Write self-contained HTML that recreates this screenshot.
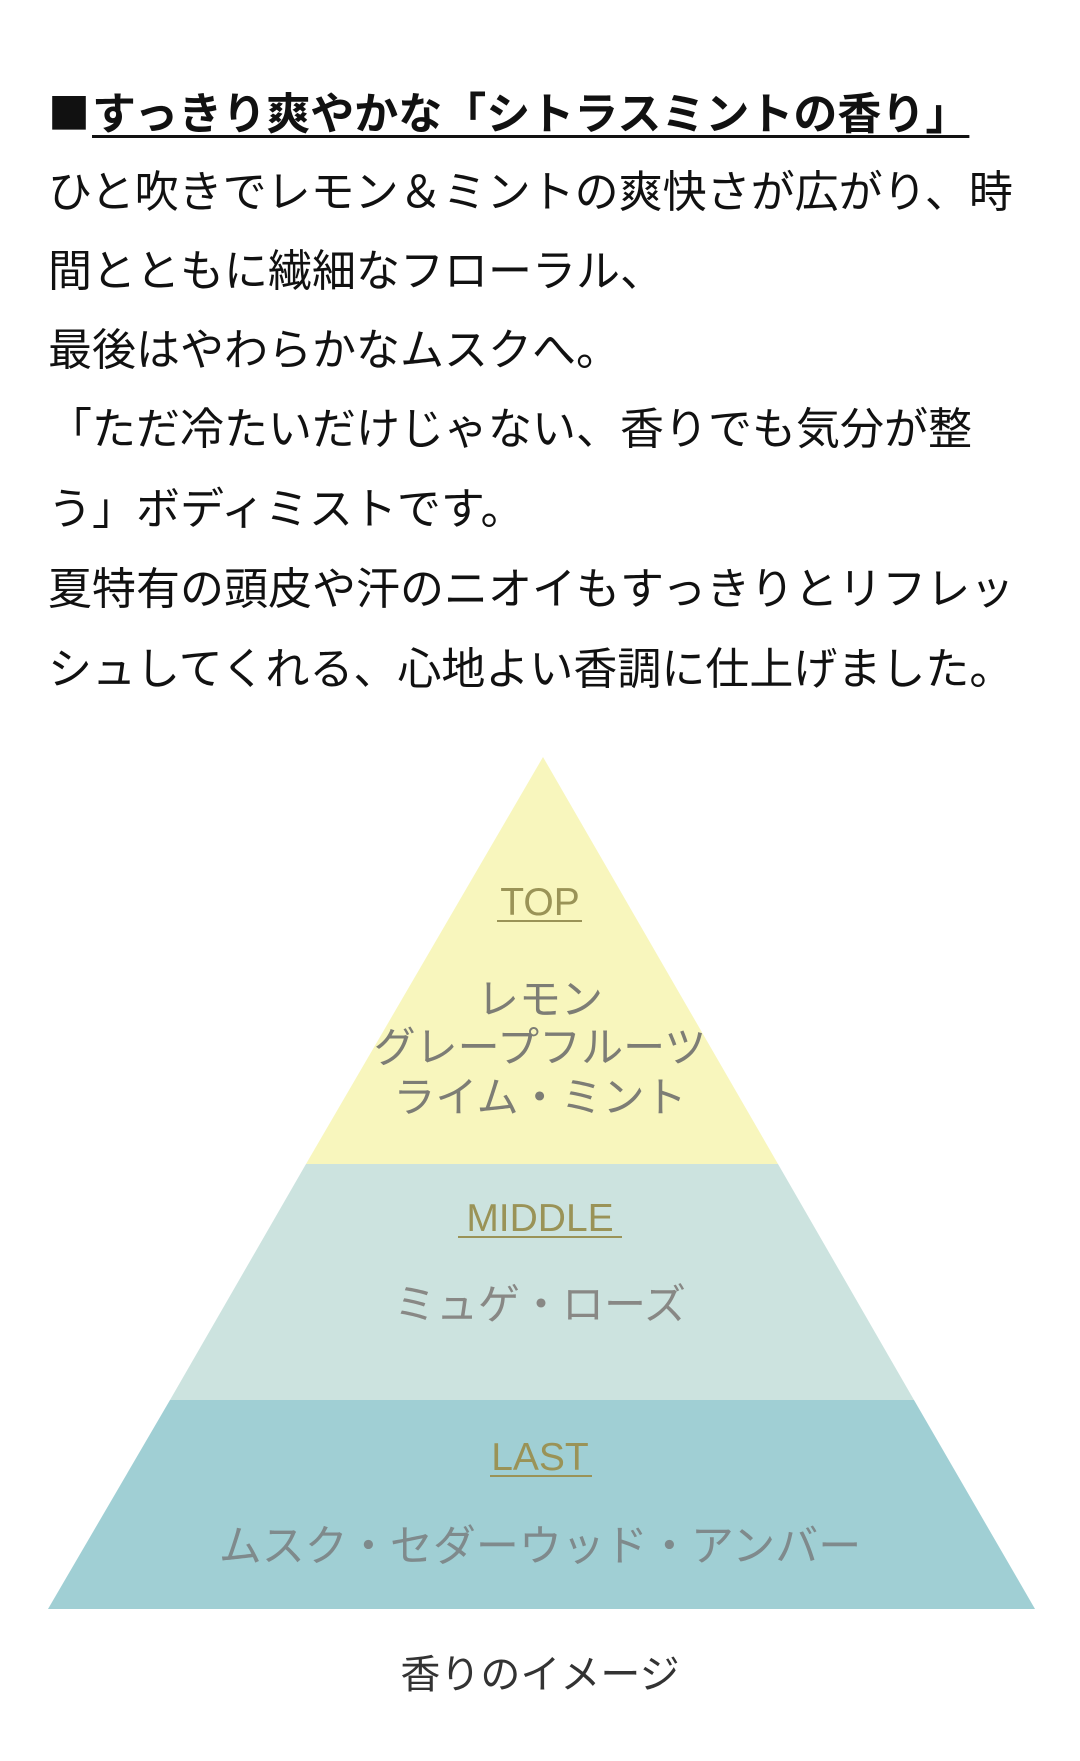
<!DOCTYPE html>
<html><head><meta charset="utf-8"><style>
html,body{margin:0;padding:0;background:#fff;width:1080px;height:1761px;overflow:hidden}
.t{position:absolute;left:48px;font-family:"Liberation Sans","Noto Sans CJK JP",sans-serif;font-size:44px;color:#111;white-space:nowrap;line-height:80px}
</style></head><body>
<div class="t" style="top:72px;font-weight:bold"><span style="font-family:'Noto Sans CJK JP',sans-serif;font-size:42px;margin-right:2px">■</span><span style="text-decoration:underline;text-decoration-thickness:3px;text-underline-offset:6px">すっきり爽やかな「シトラスミントの香り」</span></div>
<div class="t" style="top:153px">ひと吹きでレモン＆ミントの爽快さが広がり、時</div>
<div class="t" style="top:232px">間とともに繊細なフローラル、</div>
<div class="t" style="top:311px">最後はやわらかなムスクへ。</div>
<div class="t" style="top:390px">「ただ冷たいだけじゃない、香りでも気分が整</div>
<div class="t" style="top:470px">う」ボディミストです。</div>
<div class="t" style="top:550px">夏特有の頭皮や汗のニオイもすっきりとリフレッ</div>
<div class="t" style="top:630px">シュしてくれる、心地よい香調に仕上げました。</div>
<svg width="1080" height="1761" style="position:absolute;left:0;top:0" font-family="Liberation Sans, Noto Sans CJK JP, sans-serif">
<polygon points="543,757 778,1164 306,1164" fill="#f8f6bd"/>
<polygon points="306,1164 778,1164 914,1400 170,1400" fill="#cce3df"/>
<polygon points="170,1400 914,1400 1035,1609 48,1609" fill="#a0cfd4"/>
<g text-anchor="middle">
<text x="540" y="915" font-size="39" fill="#9a9357">TOP</text>
<line x1="497" y1="921" x2="582" y2="921" stroke="#9a9357" stroke-width="2"/>
<text x="540" y="1014" font-size="42" fill="#7d7d75">レモン</text>
<text x="540" y="1062" font-size="42" fill="#7d7d75">グレープフルーツ</text>
<text x="540" y="1112" font-size="42" fill="#7d7d75">ライム・ミント</text>
<text x="540" y="1231" font-size="39" fill="#9a9357">MIDDLE</text>
<line x1="458" y1="1237" x2="622" y2="1237" stroke="#9a9357" stroke-width="2"/>
<text x="540" y="1319" font-size="42" fill="#888885">ミュゲ・ローズ</text>
<text x="540" y="1470" font-size="39" fill="#9a9357">LAST</text>
<line x1="490" y1="1476" x2="592" y2="1476" stroke="#9a9357" stroke-width="2"/>
<text x="540" y="1561" font-size="43" fill="#7f8a8c">ムスク・セダーウッド・アンバー</text>
<text x="540" y="1688" font-size="40" fill="#333">香りのイメージ</text>
</g>
</svg>
</body></html>
